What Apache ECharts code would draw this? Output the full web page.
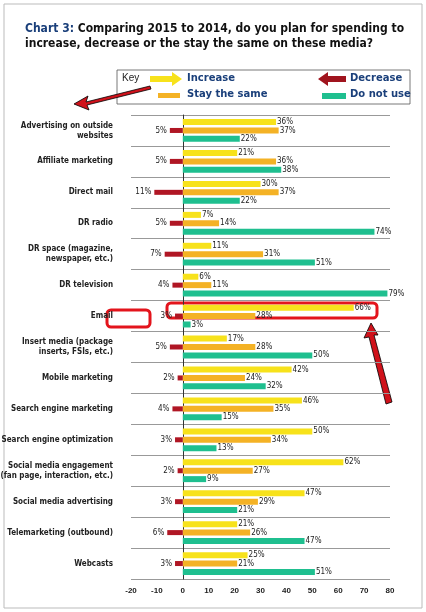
<!DOCTYPE html><html><head><meta charset="utf-8"><script src="https://cdn.jsdelivr.net/npm/echarts@6/dist/echarts.min.js"></script>
<style>body{margin:0;background:#fff}#c{width:426px;height:612px}</style></head><body><div id="c"></div><script>
const categories=["Advertising on outside\nwebsites","Affiliate marketing","Direct mail","DR radio","DR space (magazine,\nnewspaper, etc.)","DR television","Email","Insert media (package\ninserts, FSIs, etc.)","Mobile marketing","Search engine marketing","Search engine optimization","Social media engagement\n(fan page, interaction, etc.)","Social media advertising","Telemarketing (outbound)","Webcasts"];
const increase=[36,21,30,7,11,6,66,17,42,46,50,62,47,21,25];
const stay=[37,36,37,14,31,11,28,28,24,35,34,27,29,26,21];
const notUse=[22,38,22,74,51,79,3,50,32,15,13,9,21,47,51];
const decrease=[5,5,11,5,7,4,3,5,2,4,3,2,3,6,3];
const xTicks=[-20,-10,0,10,20,30,40,50,60,70,80];
const chart=echarts.init(document.getElementById('c'));
const lbl={show:true,position:'right',formatter:'{c}%',fontSize:8,color:'#222',fontFamily:'DejaVu Sans Condensed',distance:1};
const bw=6;
chart.setOption({
 animation:false,
 title:{left:20,top:16,text:'{a|Chart 3: }Comparing 2015 to 2014, do you plan for spending to\nincrease, decrease or the stay the same on these media?',textStyle:{fontSize:12,fontWeight:'bold',color:'#111',lineHeight:15,fontFamily:'DejaVu Sans Condensed',rich:{a:{fontSize:12,fontWeight:'bold',color:'#1a3f7a',fontFamily:'DejaVu Sans Condensed'}}}},
 grid:{left:131,right:36,top:115,bottom:33,outerBoundsMode:'none',containLabel:false},
 xAxis:{type:'value',min:-20,max:80,interval:10,axisLine:{show:false},axisTick:{show:false},splitLine:{show:false},axisLabel:{fontSize:8,fontWeight:'bold',color:'#222',margin:8,formatter:v=>xTicks.includes(v)?String(v):''}},
 yAxis:[{type:'category',inverse:true,data:categories,axisLine:{show:true,onZero:true,lineStyle:{color:'#333'}},axisTick:{show:false},splitLine:{show:true,lineStyle:{color:'#999'}},axisLabel:{show:true,fontSize:8,fontWeight:'bold',color:'#222',lineHeight:10,margin:18,align:'right',fontFamily:'DejaVu Sans Condensed'}},
  {type:'category',inverse:true,data:categories,show:false}],
 series:[
  {type:'bar',name:'Increase',data:increase,barWidth:bw,barGap:'40%',itemStyle:{color:'#f7e21b'},label:lbl},
  {type:'bar',name:'Stay the same',data:stay,barWidth:bw,barGap:'40%',itemStyle:{color:'#f4b225'},label:lbl},
  {type:'bar',name:'Do not use',data:notUse,barWidth:bw,barGap:'40%',itemStyle:{color:'#1fbf8f'},label:lbl},
  {type:'bar',name:'Decrease',yAxisIndex:1,data:decrease.map(v=>-v),barWidth:5,barGap:'-100%',itemStyle:{color:'#b01624'},label:{show:true,position:'left',formatter:p=>(-p.value)+'%',fontSize:8,color:'#222',fontFamily:'DejaVu Sans Condensed',distance:3}}
 ],
 graphic:[
  {type:'rect',shape:{x:4,y:4,width:418,height:604},style:{fill:'none',stroke:'#bbb',lineWidth:1}},
  {type:'rect',shape:{x:117,y:70,width:293,height:34},style:{fill:'none',stroke:'#555',lineWidth:0.8}},
  {type:'text',left:122,top:73,style:{text:'Key',fontSize:10,fill:'#222',font:'10px DejaVu Sans'}},
  {type:'polygon',shape:{points:[[150,76],[172,76],[172,72],[182,79],[172,86],[172,82],[150,82]]},style:{fill:'#f7e21b'}},
  {type:'text',left:187,top:73,style:{text:'Increase',font:'bold 10px DejaVu Sans',fill:'#1a3f7a'}},
  {type:'rect',shape:{x:158,y:93,width:22,height:5},style:{fill:'#f4b225'}},
  {type:'text',left:187,top:89,style:{text:'Stay the same',font:'bold 10px DejaVu Sans',fill:'#1a3f7a'}},
  {type:'polygon',shape:{points:[[318,79],[328,72],[328,76],[346,76],[346,82],[328,82],[328,86]]},style:{fill:'#a0141e'}},
  {type:'text',left:350,top:73,style:{text:'Decrease',font:'bold 10px DejaVu Sans',fill:'#1a3f7a'}},
  {type:'rect',shape:{x:322,y:93,width:24,height:6},style:{fill:'#1fbf8f'}},
  {type:'text',left:350,top:89,style:{text:'Do not use',font:'bold 10px DejaVu Sans',fill:'#1a3f7a'}},
  {type:'polygon',shape:{points:[[74,104],[88,96],[86,102],[150,86],[151,89],[87,105],[89,110]]},style:{fill:'#d0121b',stroke:'#000',lineWidth:0.8}},
  {type:'rect',shape:{x:107,y:310,width:43,height:17,r:4},style:{fill:'none',stroke:'#e3141c',lineWidth:3}},
  {type:'rect',shape:{x:167,y:303,width:210,height:15,r:4},style:{fill:'none',stroke:'#e3141c',lineWidth:3}},
  {type:'polygon',shape:{points:[[371,323],[378,335],[374,335],[392,402],[386,404],[369,337],[364,338]]},style:{fill:'#d0121b',stroke:'#000',lineWidth:0.8}}
 ]
});
</script></body></html>
